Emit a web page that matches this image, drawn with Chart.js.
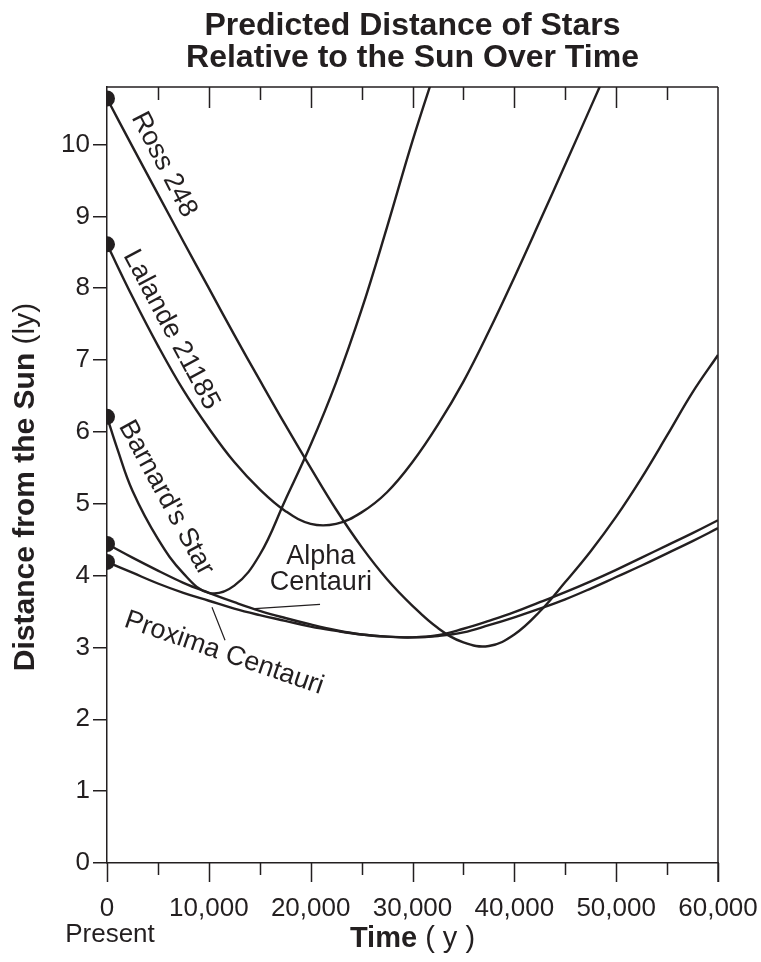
<!DOCTYPE html>
<html>
<head>
<meta charset="utf-8">
<script src="https://cdn.jsdelivr.net/npm/chart.js@4.4.1/dist/chart.umd.min.js"></script>
<style>
  html, body { margin: 0; padding: 0; background: #fff; }
</style>
</head>
<body>
<canvas id="chart" width="761" height="962"></canvas>
<script>
// time from present (years) and distance from the Sun (light years)
const rossYears = [0, 2500, 5000, 7500, 10000, 12500, 15000, 17500, 20000, 22500, 25000, 27500, 30000, 32500, 35000, 37500, 40000, 42500, 45000, 47500, 50000, 52500, 55000, 57500, 60000];
const rossDist = [10.64, 9.97, 9.31, 8.65, 8.00, 7.35, 6.72, 6.10, 5.50, 4.92, 4.40, 3.95, 3.58, 3.27, 3.07, 3.02, 3.18, 3.50, 3.91, 4.34, 4.82, 5.36, 5.95, 6.55, 7.07];

const lalandeYears = [0, 2500, 5000, 7500, 10000, 12500, 15000, 17500, 20000, 22500, 25000, 27500, 30000, 32500, 35000, 37500, 40000, 42500, 45000, 47500, 50000];
const lalandeDist = [8.61, 7.88, 7.20, 6.58, 6.05, 5.58, 5.20, 4.90, 4.72, 4.72, 4.88, 5.16, 5.58, 6.10, 6.70, 7.40, 8.15, 8.93, 9.72, 10.52, 11.32];

const barnardYears = [0, 1000, 2500, 5000, 7500, 10000, 12500, 15000, 17500, 20000, 22500, 25000, 27500, 30000, 32500];
const barnardDist = [6.21, 5.77, 5.18, 4.51, 4.03, 3.76, 3.86, 4.29, 5.05, 5.82, 6.69, 7.70, 8.85, 10.05, 11.15];

const alphaYears = [0, 2500, 5000, 7500, 10000, 12500, 15000, 17500, 20000, 22500, 25000, 27500, 30000, 32500, 35000, 37500, 40000, 42500, 45000, 47500, 50000, 52500, 55000, 57500, 60000];
const alphaDist = [4.44, 4.25, 4.07, 3.90, 3.76, 3.63, 3.51, 3.41, 3.32, 3.24, 3.18, 3.15, 3.14, 3.17, 3.26, 3.37, 3.49, 3.63, 3.77, 3.92, 4.08, 4.25, 4.42, 4.59, 4.77];

const proximaYears = [0, 2500, 5000, 7500, 10000, 12500, 15000, 17500, 20000, 22500, 25000, 27500, 30000, 32500, 35000, 37500, 40000, 42500, 45000, 47500, 50000, 52500, 55000, 57500, 60000];
const proximaDist = [4.19, 4.04, 3.89, 3.76, 3.65, 3.54, 3.45, 3.37, 3.29, 3.23, 3.18, 3.15, 3.14, 3.16, 3.21, 3.31, 3.42, 3.54, 3.67, 3.82, 3.98, 4.14, 4.31, 4.48, 4.66];

const xTicks = [0, 10000, 20000, 30000, 40000, 50000, 60000];
const yTicks = [0, 1, 2, 3, 4, 5, 6, 7, 8, 9, 10];

const ink = '#231f20';
const font = "'Liberation Sans', Arial, sans-serif";

function pairs(xs, ys) {
    return xs.map((x, i) => ({ x: x, y: ys[i] }));
}

function series(label, xs, ys) {
    return {
        label: label,
        data: pairs(xs, ys),
        borderColor: ink,
        backgroundColor: ink,
        borderWidth: 2.4,
        tension: 0.4,
        pointRadius: ctx => ctx.dataIndex === 0 ? 8 : 0,
        pointHoverRadius: 0,
        pointBackgroundColor: ink,
        pointBorderWidth: 0
    };
}

// frame, minor ticks, curve labels and axis titles
const decorations = {
    id: 'decorations',
    afterDraw(chart) {
        const c = chart.ctx;
        const area = chart.chartArea;
        const xs = chart.scales.x;
        const ys = chart.scales.y;
        const px = v => xs.getPixelForValue(v);
        const py = v => ys.getPixelForValue(v);

        c.save();
        c.strokeStyle = ink;
        c.lineWidth = 1.5;
        c.beginPath();
        c.moveTo(area.left, area.top);
        c.lineTo(area.right, area.top);
        c.moveTo(area.right, area.top);
        c.lineTo(area.right, area.bottom + 19);
        for (let t = 0; t <= 60000; t += 5000) {
            const major = t % 10000 === 0;
            const x = Math.round(px(t)) + 0.5;
            // bottom ticks, outward
            c.moveTo(x, area.bottom);
            c.lineTo(x, area.bottom + (major ? 19 : 12));
            // top ticks, inward
            if (t > 0 && t < 60000) {
                c.moveTo(x, area.top);
                c.lineTo(x, area.top + (major ? 21 : 13));
            }
        }
        c.stroke();

        // curve labels
        c.fillStyle = ink;
        c.textAlign = 'center';
        c.textBaseline = 'middle';
        c.font = '27px ' + font;
        const rotated = (text, t, v, deg) => {
            c.save();
            c.translate(px(t), py(v));
            c.rotate(deg * Math.PI / 180);
            c.fillText(text, 0, 0);
            c.restore();
        };
        rotated('Ross 248', 5600, 9.72, 62.8);
        rotated('Lalande 21185', 6300, 7.42, 62);
        rotated("Barnard's Star", 5800, 5.08, 61.5);
        rotated('Proxima Centauri', 11500, 2.92, 19);
        c.fillText('Alpha', px(21000), py(4.27));
        c.fillText('Centauri', px(21000), py(3.90));

        // leader lines
        c.lineWidth = 1.2;
        c.beginPath();
        c.moveTo(px(14530), py(3.54));
        c.lineTo(px(20920), py(3.60));
        c.moveTo(px(10310), py(3.56));
        c.lineTo(px(11590), py(3.10));
        c.stroke();

        // x axis extra text
        c.textBaseline = 'alphabetic';
        c.font = '26px ' + font;
        c.fillText('Present', px(0) + 3, 942);

        let boldF = 'bold 29px ' + font;
        let regF = '29px ' + font;
        c.font = boldF;
        const w1 = c.measureText('Time').width;
        c.font = regF;
        const w2 = c.measureText(' ( y )').width;
        let x0 = (area.left + area.right) / 2 - (w1 + w2) / 2;
        c.textAlign = 'left';
        c.font = boldF;
        c.fillText('Time', x0, 947);
        c.font = regF;
        c.fillText(' ( y )', x0 + w1, 947);

        // y axis title
        boldF = 'bold 30px ' + font;
        regF = '30px ' + font;
        c.save();
        c.translate(34, 487);
        c.rotate(-Math.PI / 2);
        c.font = boldF;
        const w3 = c.measureText('Distance from the Sun').width;
        c.font = regF;
        const w4 = c.measureText(' (ly)').width;
        x0 = -(w3 + w4) / 2;
        c.font = boldF;
        c.fillText('Distance from the Sun', x0, 0);
        c.font = regF;
        c.fillText(' (ly)', x0 + w3, 0);
        c.restore();

        c.restore();
    }
};

new Chart(document.getElementById('chart'), {
    type: 'line',
    data: {
        datasets: [
            series('Ross 248', rossYears, rossDist),
            series('Lalande 21185', lalandeYears, lalandeDist),
            series("Barnard's Star", barnardYears, barnardDist),
            series('Alpha Centauri', alphaYears, alphaDist),
            series('Proxima Centauri', proximaYears, proximaDist)
        ]
    },
    options: {
        responsive: false,
        animation: false,
        devicePixelRatio: 1,
        layout: { padding: { left: 0, right: 43, top: 0, bottom: 0 } },
        plugins: {
            legend: { display: false },
            tooltip: { enabled: false },
            title: {
                display: true,
                fullSize: false,
                text: ['Predicted Distance of Stars', 'Relative to the Sun Over Time'],
                color: ink,
                font: { family: font, size: 32, weight: 'bold', lineHeight: 1.0 },
                padding: { top: 10, bottom: 13 }
            }
        },
        scales: {
            x: {
                type: 'linear',
                min: 0,
                max: 60000,
                afterBuildTicks: scale => { scale.ticks = xTicks.map(v => ({ value: v })); },
                afterFit: scale => {
                    scale.height = 99;
                    scale.paddingLeft = 0;
                    scale.paddingRight = 0;
                },
                ticks: {
                    color: ink,
                    font: { family: font, size: 26 },
                    padding: 10,
                    maxRotation: 0,
                    autoSkip: false,
                    callback: v => v.toLocaleString('en-US')
                },
                grid: { drawOnChartArea: false, color: 'rgba(0,0,0,0)', tickLength: 20 },
                border: { display: true, color: ink, width: 1.5 }
            },
            y: {
                type: 'linear',
                min: 0,
                max: 10.8,
                afterBuildTicks: scale => { scale.ticks = yTicks.map(v => ({ value: v })); },
                afterFit: scale => {
                    scale.width = 107;
                    scale.paddingTop = 0;
                    scale.paddingBottom = 0;
                },
                ticks: {
                    color: ink,
                    font: { family: font, size: 26 },
                    padding: 3
                },
                grid: { drawOnChartArea: false, color: ink, lineWidth: 1.5, tickLength: 14 },
                border: { display: true, color: ink, width: 1.5 }
            }
        }
    },
    plugins: [decorations]
});
</script>
</body>
</html>
